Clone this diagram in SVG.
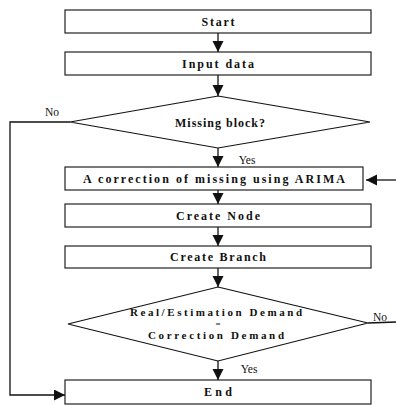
<svg xmlns="http://www.w3.org/2000/svg" width="396" height="405" viewBox="0 0 396 405">
  <defs>
    <marker id="ah" markerUnits="userSpaceOnUse" markerWidth="12" markerHeight="12" refX="11" refY="5.5" orient="auto">
      <path d="M0,0 L11,5.5 L0,11 z" fill="#111"/>
    </marker>
    <style>
      .box { fill: #fff; stroke: #222; stroke-width: 1.2; }
      .dia { fill: #fff; stroke: #111; stroke-width: 1.2; }
      .t { font-family: "Liberation Serif", "Times New Roman", serif; font-size: 12px; font-weight: bold; fill: #111; text-anchor: middle; }
      .t2 { font-family: "Liberation Serif", "Times New Roman", serif; font-size: 11px; font-weight: bold; fill: #111; text-anchor: middle; }
      .lbl { font-family: "Liberation Serif", "Times New Roman", serif; font-size: 11.5px; fill: #111; }
      .c { fill: none; stroke: #111; stroke-width: 1.3; }
    </style>
  </defs>
  <rect width="396" height="405" fill="#fff"/>

  <g id="connectors">
    <line class="c" x1="218" y1="33" x2="218" y2="52" marker-end="url(#ah)"/>
    <line class="c" x1="218" y1="75" x2="218" y2="96" marker-end="url(#ah)"/>
    <line class="c" x1="218" y1="148" x2="218" y2="167" marker-end="url(#ah)"/>
    <line class="c" x1="218" y1="190" x2="218" y2="204" marker-end="url(#ah)"/>
    <line class="c" x1="218" y1="227" x2="218" y2="246" marker-end="url(#ah)"/>
    <line class="c" x1="218" y1="268" x2="218" y2="287" marker-end="url(#ah)"/>
    <line class="c" x1="218" y1="361" x2="218" y2="380" marker-end="url(#ah)"/>
    <polyline class="c" points="70,122 10,122 10,395 65,395" marker-end="url(#ah)"/>
    <line class="c" x1="396" y1="180" x2="366" y2="180" marker-end="url(#ah)"/>
    <line class="c" x1="368" y1="323" x2="396" y2="322"/>
    <text class="lbl" x="52" y="116" text-anchor="middle">No</text>
    <text class="lbl" x="247" y="164" text-anchor="middle">Yes</text>
    <text class="lbl" x="380" y="321" text-anchor="middle">No</text>
    <text class="lbl" x="249" y="373" text-anchor="middle">Yes</text>
  </g>

  <g id="start">
    <rect class="box" x="65" y="10" width="306" height="23"/>
    <text class="t" x="218" y="26" textLength="33" lengthAdjust="spacing">Start</text>
  </g>
  <g id="input">
    <rect class="box" x="65" y="52" width="306" height="23"/>
    <text class="t" x="218" y="68" textLength="72" lengthAdjust="spacing">Input data</text>
  </g>
  <g id="missing">
    <polygon class="dia" points="218,96 370,122 218,148 70,122"/>
    <text class="t" x="220" y="127" textLength="90" lengthAdjust="spacing">Missing block?</text>
  </g>
  <g id="arima">
    <rect class="box" x="65" y="167" width="298" height="23"/>
    <text class="t" x="214" y="183" textLength="262" lengthAdjust="spacing">A correction of missing using ARIMA</text>
  </g>
  <g id="node">
    <rect class="box" x="65" y="204" width="306" height="23"/>
    <text class="t" x="218" y="220" textLength="84" lengthAdjust="spacing">Create Node</text>
  </g>
  <g id="branch">
    <rect class="box" x="65" y="246" width="306" height="22"/>
    <text class="t" x="218" y="261" textLength="96" lengthAdjust="spacing">Create Branch</text>
  </g>
  <g id="check">
    <polygon class="dia" points="218,287 368,323 218,361 68,324"/>
    <text class="t2" x="216" y="316" textLength="172" lengthAdjust="spacing">Real/Estimation Demand</text>
    <text class="t2" x="218" y="327" style="font-size:9px">=</text>
    <text class="t2" x="216" y="339" textLength="136" lengthAdjust="spacing">Correction Demand</text>
  </g>
  <g id="end">
    <rect class="box" x="65" y="380" width="306" height="24"/>
    <text class="t" x="218" y="396" textLength="28" lengthAdjust="spacing">End</text>
  </g>
</svg>
